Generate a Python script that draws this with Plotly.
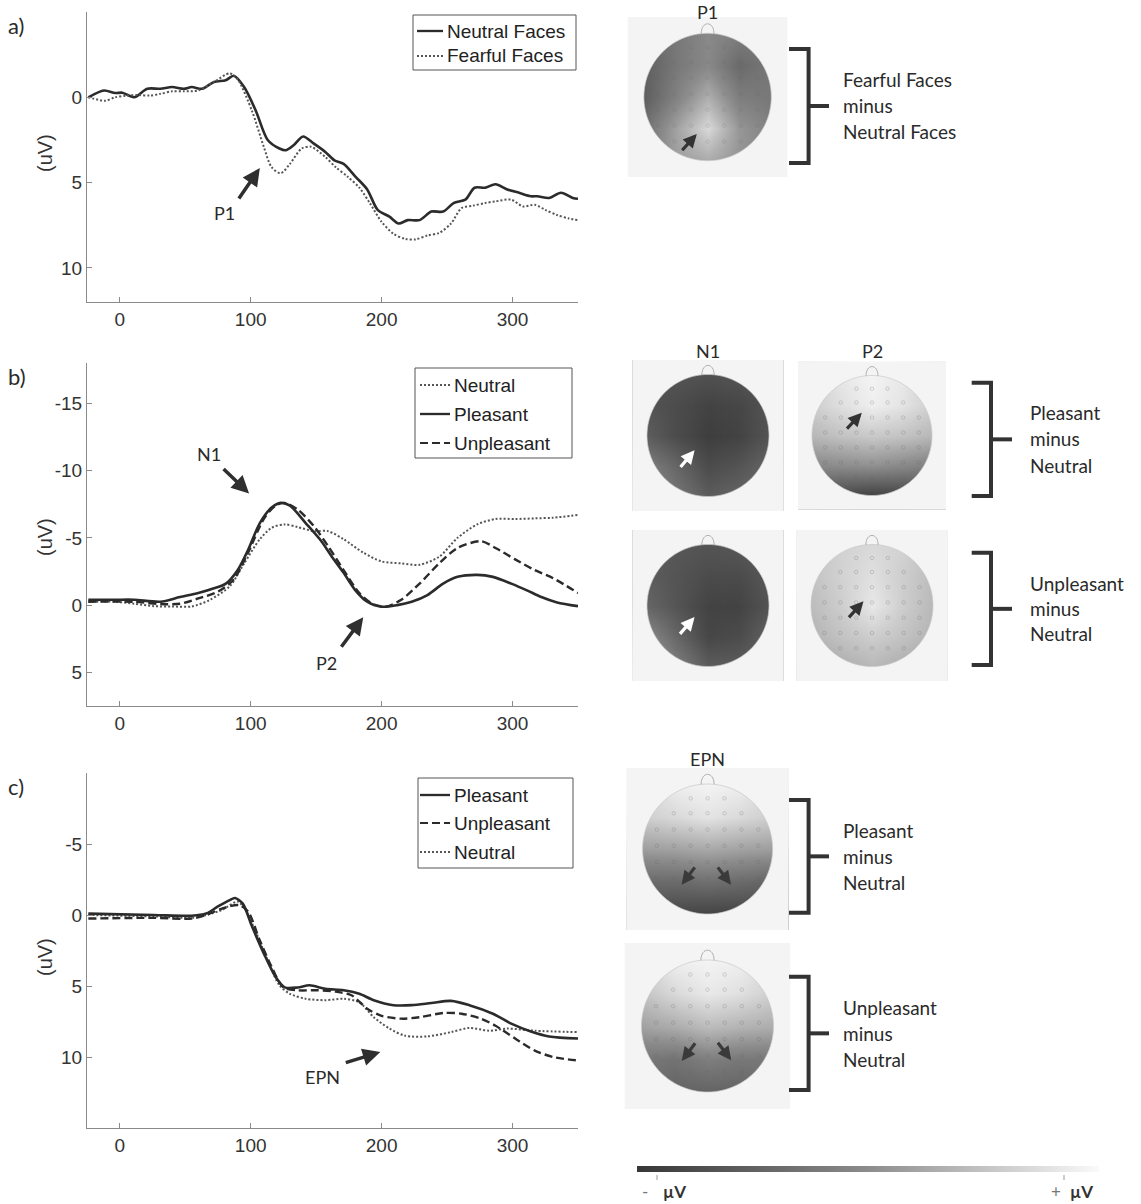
import numpy as np
import plotly.graph_objects as go

W, H = 1141, 1204

# ------------------------------------------------------------------ data
# Panel a: Fearful vs Neutral faces (ms, uV)
A_NEUTRAL_T = [-24, -12, -3.5, 2, 11, 21, 31, 40, 49, 55, 63, 72, 81, 87, 95, 104, 113, 122, 127, 133, 140,
               148, 157, 164, 171, 180, 189, 197, 206, 213, 220, 229, 238, 247, 255, 264, 271, 279, 287,
               296, 305, 314, 319, 328, 337, 346, 350]
A_NEUTRAL_V = [0, -0.4, -0.25, -0.27, 0, -0.5, -0.5, -0.6, -0.5, -0.6, -0.5, -0.9, -1.0, -1.26, -0.6, 0.8, 2.5,
               3.0, 3.1, 2.8, 2.3, 2.7, 3.2, 3.7, 3.9, 4.65, 5.4, 6.6, 7.0, 7.4, 7.2, 7.2, 6.7, 6.7, 6.2,
               6.0, 5.3, 5.3, 5.1, 5.4, 5.6, 5.8, 5.8, 5.9, 5.6, 5.9, 5.95]
A_FEARFUL_T = [-24, -11, -3.5, 5, 14, 23, 31, 40, 49, 60, 72, 84, 90, 101, 110, 116, 123, 130, 139, 146, 157,
               165, 174, 183, 191, 200, 209, 218, 226, 235, 244, 253, 261, 270, 279, 287, 299, 308, 317,
               325, 334, 343, 350]
A_FEARFUL_V = [0, 0.2, 0, -0.1, -0.13, -0.1, -0.2, -0.35, -0.35, -0.4, -0.9, -1.4, -1.06, 0.8, 2.9, 4.1, 4.45,
               3.9, 3.0, 2.9, 3.5, 4.1, 4.65, 5.3, 6.2, 7.3, 8.0, 8.3, 8.33, 8.1, 7.95, 7.4, 6.5, 6.35,
               6.2, 6.1, 6.0, 6.4, 6.3, 6.6, 6.9, 7.1, 7.2]

# Panel b: N1 / P2
B_NEUTRAL_T = [-24, -3.5, 11, 26, 40, 55, 69, 84, 95, 107, 116, 126, 136, 148, 159, 171, 186, 200, 215, 229,
               244, 258, 273, 287, 302, 317, 331, 350]
B_NEUTRAL_V = [-0.25, -0.25, -0.1, 0.08, 0.1, 0.1, -0.4, -1.4, -3.1, -4.9, -5.75, -6.0, -5.8, -5.5, -5.5,
               -4.9, -3.9, -3.25, -3.1, -3.0, -3.6, -5.0, -6.0, -6.4, -6.4, -6.45, -6.5, -6.7]
B_PLEAS_T = [-24, -3.5, 11, 31, 46, 60, 72, 81, 90, 98, 107, 116, 123, 130, 142, 154, 162, 171, 180, 189,
             200, 212, 223, 235, 247, 258, 273, 285, 299, 311, 322, 334, 350]
B_PLEAS_V = [-0.4, -0.4, -0.4, -0.25, -0.6, -0.9, -1.25, -1.6, -2.6, -4.1, -6.1, -7.25, -7.6, -7.4, -6.1,
             -4.75, -3.6, -2.4, -1.1, -0.25, 0.12, 0, -0.25, -0.75, -1.6, -2.1, -2.25, -2.1, -1.6, -1.1,
             -0.6, -0.2, 0.08]
B_UNPL_T = [-24, 11, 31, 46, 60, 75, 87, 98, 110, 119, 126, 136, 148, 159, 171, 183, 193, 203, 215, 229,
            244, 258, 276, 287, 302, 317, 331, 350]
B_UNPL_V = [-0.25, -0.25, -0.08, -0.1, -0.5, -1.0, -1.9, -3.9, -6.4, -7.4, -7.6, -7.1, -5.9, -4.4, -2.6,
            -0.9, -0.1, 0.12, -0.4, -1.6, -3.1, -4.25, -4.75, -4.25, -3.4, -2.6, -2.0, -0.9]

# Panel c: EPN
C_PLEAS_T = [-24, 26, 55, 66, 75, 84, 88, 94, 101, 110, 119, 126, 136, 145, 157, 171, 183, 194, 209, 223,
             238, 253, 267, 285, 299, 314, 328, 350]
C_PLEAS_V = [-0.1, 0, 0.05, -0.1, -0.6, -1.05, -1.2, -0.8, 0.8, 2.7, 4.35, 5.1, 5.1, 4.95, 5.2, 5.3, 5.55,
             6.0, 6.35, 6.35, 6.2, 6.05, 6.35, 6.95, 7.65, 8.2, 8.55, 8.7]
C_UNPL_T = [-24, 26, 55, 66, 78, 91, 98, 107, 116, 125, 136, 151, 165, 177, 189, 200, 215, 229, 247, 261,
            276, 287, 302, 317, 331, 350]
C_UNPL_V = [0.25, 0.2, 0.25, 0, -0.45, -0.7, -0.25, 1.8, 3.65, 5.1, 5.3, 5.3, 5.4, 5.65, 6.6, 7.1, 7.3, 7.2,
            6.9, 6.95, 7.3, 7.8, 8.7, 9.55, 10.0, 10.25]
C_NEUT_T = [-24, 26, 55, 66, 78, 90, 95, 104, 113, 122, 130, 142, 157, 171, 183, 194, 206, 218, 235, 253,
            267, 282, 296, 317, 350]
C_NEUT_V = [0, 0.1, 0.2, 0, -0.35, -0.95, -0.5, 1.2, 3.2, 4.95, 5.55, 5.9, 6.0, 5.9, 6.15, 7.2, 8.0, 8.5,
            8.55, 8.25, 7.95, 8.15, 8.0, 8.15, 8.25]

X_TICKS = [0, 100, 200, 300]
A_YTICKS = [0, 5, 10]
B_YTICKS = [-15, -10, -5, 0, 5]
C_YTICKS = [-5, 0, 5, 10]

# Topographic difference maps: relative amplitude (0 = most negative, 1 = most positive)
# 5 x 5 grid, rows listed from front (top) to back (bottom), columns left to right
TOPO_GRID = [-1.0, -0.5, 0.0, 0.5, 1.0]
TOPO_P1 = [[0.28, 0.38, 0.48, 0.42, 0.38],
           [0.23, 0.38, 0.48, 0.30, 0.38],
           [0.23, 0.44, 0.66, 0.42, 0.38],
           [0.33, 0.60, 0.85, 0.55, 0.44],
           [0.44, 0.58, 0.64, 0.54, 0.48]]
TOPO_N1_PLEAS = [[0.17, 0.17, 0.15, 0.17, 0.17],
                 [0.17, 0.12, 0.07, 0.09, 0.17],
                 [0.22, 0.12, 0.04, 0.07, 0.17],
                 [0.42, 0.27, 0.12, 0.17, 0.27],
                 [0.52, 0.37, 0.22, 0.27, 0.32]]
TOPO_P2_PLEAS = [[0.80, 0.92, 0.97, 0.92, 0.80],
                 [0.80, 0.88, 0.95, 0.90, 0.80],
                 [0.70, 0.75, 0.78, 0.75, 0.70],
                 [0.48, 0.50, 0.52, 0.48, 0.43],
                 [0.15, 0.10, 0.06, 0.08, 0.12]]
TOPO_N1_UNPL = [[0.22, 0.19, 0.17, 0.19, 0.22],
                [0.22, 0.17, 0.12, 0.12, 0.19],
                [0.27, 0.17, 0.07, 0.07, 0.17],
                [0.48, 0.27, 0.09, 0.12, 0.25],
                [0.63, 0.42, 0.22, 0.22, 0.27]]
TOPO_P2_UNPL = [[0.75, 0.82, 0.85, 0.82, 0.75],
                [0.75, 0.82, 0.88, 0.80, 0.72],
                [0.72, 0.80, 0.92, 0.80, 0.70],
                [0.68, 0.75, 0.80, 0.75, 0.68],
                [0.60, 0.65, 0.70, 0.65, 0.60]]
TOPO_EPN_PLEAS = [[0.85, 0.95, 0.97, 0.95, 0.85],
                  [0.80, 0.85, 0.90, 0.85, 0.80],
                  [0.58, 0.60, 0.63, 0.60, 0.58],
                  [0.30, 0.30, 0.33, 0.30, 0.26],
                  [0.14, 0.09, 0.07, 0.07, 0.11]]
TOPO_EPN_UNPL = [[0.85, 0.95, 0.97, 0.95, 0.85],
                 [0.75, 0.85, 0.92, 0.88, 0.80],
                 [0.60, 0.65, 0.72, 0.68, 0.65],
                 [0.38, 0.35, 0.42, 0.38, 0.38],
                 [0.32, 0.26, 0.26, 0.26, 0.32]]

# electrode rows (normalised head coordinates)
ELECTRODE_ROW_Y = [0.78, 0.55, 0.30, 0.05, -0.20, -0.45, -0.70]
ELECTRODE_COL_X = [-0.78, -0.52, -0.26, 0.0, 0.26, 0.52, 0.78]

# ------------------------------------------------------------------ helpers
def px(x):
    return x / W


def py(y):
    return 1 - y / H


TICK_FONT = dict(family="Liberation Sans, Arial", size=19, color="#333333")
TEXT_FONT = dict(family="Lato, Noto Sans", size=19, color="#2a2a2a")
AX_COL = "#8a8a8a"
DARK = "#2b2b2b"

STYLES = {
    "solid": dict(color=DARK, width=2.6),
    "dash": dict(color=DARK, width=2.4, dash="8px,4px"),
    "dot": dict(color="#555555", width=2.0, dash="2px,2px"),
}

fig = go.Figure()

# ------------------------------------------------------------------ ERP panels
LEFT_X = (87, 578)
PANELS = [
    dict(ax="", yr=(12, 302), rng=[12, -5], ticks=A_YTICKS, label="a)", label_y=25, utitle_y=153,
         series=[(A_NEUTRAL_T, A_NEUTRAL_V, "solid", "Neutral Faces"),
                 (A_FEARFUL_T, A_FEARFUL_V, "dot", "Fearful Faces")]),
    dict(ax="2", yr=(363, 706), rng=[7.5, -18], ticks=B_YTICKS, label="b)", label_y=376, utitle_y=537,
         series=[(B_NEUTRAL_T, B_NEUTRAL_V, "dot", "Neutral"),
                 (B_PLEAS_T, B_PLEAS_V, "solid", "Pleasant"),
                 (B_UNPL_T, B_UNPL_V, "dash", "Unpleasant")]),
    dict(ax="3", yr=(773, 1128), rng=[15, -10], ticks=C_YTICKS, label="c)", label_y=786, utitle_y=957,
         series=[(C_NEUT_T, C_NEUT_V, "dot", "Neutral"),
                 (C_UNPL_T, C_UNPL_V, "dash", "Unpleasant"),
                 (C_PLEAS_T, C_PLEAS_V, "solid", "Pleasant")]),
]

layout = dict(width=W, height=H, margin=dict(l=0, r=0, t=0, b=0), paper_bgcolor="white",
              plot_bgcolor="rgba(0,0,0,0)", showlegend=False)
shapes, annotations = [], []

for p in PANELS:
    a = p["ax"]
    for t, v, style, name in p["series"]:
        fig.add_trace(go.Scatter(x=t, y=v, mode="lines", name=name, line=dict(shape="spline", smoothing=0.8,
                                 **STYLES[style]), xaxis="x" + a, yaxis="y" + a, hoverinfo="skip"))
    layout["xaxis" + a] = dict(domain=[px(LEFT_X[0]), px(LEFT_X[1])], range=[-25, 350], tickvals=X_TICKS,
                               ticktext=[str(v) for v in X_TICKS],
                               ticks="inside", ticklen=5, tickcolor=AX_COL, showline=True, linecolor=AX_COL,
                               linewidth=1.2, showgrid=False, zeroline=False, tickfont=TICK_FONT,
                               anchor="y" + a, fixedrange=True)
    layout["yaxis" + a] = dict(domain=[py(p["yr"][1]), py(p["yr"][0])], range=p["rng"], tickvals=p["ticks"],
                               ticktext=[str(v) for v in p["ticks"]],
                               ticks="inside", ticklen=5, tickcolor=AX_COL, showline=True, linecolor=AX_COL,
                               linewidth=1.2, showgrid=False, zeroline=False, tickfont=TICK_FONT,
                               anchor="x" + a, fixedrange=True)
    annotations.append(dict(text=p["label"], x=px(6), y=py(p["label_y"]), xref="paper", yref="paper",
                            xanchor="left", yanchor="middle", showarrow=False,
                            font=dict(family="Lato, Noto Sans", size=22, color="#2a2a2a")))
    annotations.append(dict(text="(uV)", x=px(45), y=py(p["utitle_y"]), xref="paper", yref="paper",
                            textangle=-90, showarrow=False, xanchor="center", yanchor="middle",
                            font=dict(family="Liberation Sans, Arial", size=20, color="#333333")))

# legends (drawn boxes)
LEGENDS = [
    dict(box=(413, 15, 576, 70), line_x=(417, 443), text_x=445,
         entries=[(31, "Neutral Faces", "solid"), (56, "Fearful Faces", "dot")]),
    dict(box=(415, 368, 572, 458), line_x=(420, 450), text_x=452,
         entries=[(385, "Neutral", "dot"), (414, "Pleasant", "solid"), (443, "Unpleasant", "dash")]),
    dict(box=(418, 778, 573, 868), line_x=(420, 450), text_x=452,
         entries=[(795, "Pleasant", "solid"), (823, "Unpleasant", "dash"), (852, "Neutral", "dot")]),
]
for lg in LEGENDS:
    x0, y0, x1, y1 = lg["box"]
    shapes.append(dict(type="rect", xref="paper", yref="paper", x0=px(x0), x1=px(x1), y0=py(y1), y1=py(y0),
                       line=dict(color="#555555", width=1), fillcolor="white", layer="above"))
    for yy, txt, style in lg["entries"]:
        st = STYLES[style]
        shapes.append(dict(type="line", xref="paper", yref="paper", x0=px(lg["line_x"][0]), x1=px(lg["line_x"][1]),
                           y0=py(yy), y1=py(yy), line=dict(color=st["color"], width=st["width"] * 0.9,
                                                           dash=st.get("dash", "solid"))))
        annotations.append(dict(text=txt, x=px(lg["text_x"]), y=py(yy), xref="paper", yref="paper",
                                xanchor="left", yanchor="middle", showarrow=False,
                                font=dict(family="Liberation Sans, Arial", size=19, color="#222222")))

# component arrows on ERP panels: (axis suffix, head ms, head uV, tail dx px, tail dy px, label, label ms, label uV)
ERP_ARROWS = [
    ("", 107, 4.15, -22, 32, "P1", 80, 6.8),
    ("2", 98.8, -8.3, -27, -26, "N1", 68, -11.2),
    ("2", 186, 0.9, -23, 31, "P2", 158, 4.3),
    ("3", 199, 9.65, -36, 11, "EPN", 155, 11.4),
]
for a, hx, hy, dx, dy, lab, lx, ly in ERP_ARROWS:
    annotations.append(dict(text="", x=hx, y=hy, xref="x" + a, yref="y" + a, ax=dx, ay=dy, showarrow=True,
                            arrowhead=2, arrowsize=1.0, arrowwidth=3.5, arrowcolor="#2f2f2f", standoff=0))
    annotations.append(dict(text=lab, x=lx, y=ly, xref="x" + a, yref="y" + a, showarrow=False,
                            xanchor="center", yanchor="middle",
                            font=dict(family="Lato, Noto Sans", size=18, color="#2a2a2a")))

# ------------------------------------------------------------------ topographic maps
MAPS = [
    dict(cx=707.6, cy=97, r=63.7, hs=80, z=TOPO_P1, label="P1", label_y=12, elec=0.22,
         arrows=[((-0.42, -0.86), (-0.17, -0.58), "#333333")]),
    dict(cx=708, cy=435.5, r=61, hs=75.5, z=TOPO_N1_PLEAS, label="N1", label_y=351, elec=0.12,
         arrows=[((-0.47, -0.54), (-0.22, -0.24), "white")]),
    dict(cx=872, cy=435.5, r=60, hs=74, z=TOPO_P2_PLEAS, label="P2", label_y=351, elec=0.3,
         arrows=[((-0.44, 0.09), (-0.17, 0.38), "#333333")]),
    dict(cx=708, cy=605.5, r=61, hs=75.5, z=TOPO_N1_UNPL, label=None, elec=0.12,
         arrows=[((-0.48, -0.49), (-0.22, -0.19), "white")]),
    dict(cx=872, cy=605.5, r=61, hs=75.5, z=TOPO_P2_UNPL, label=None, elec=0.3,
         arrows=[((-0.40, -0.22), (-0.14, 0.07), "#333333")]),
    dict(cx=707.6, cy=849, r=65, hs=81, z=TOPO_EPN_PLEAS, label="EPN", label_y=759, elec=0.3,
         arrows=[((-0.18, -0.26), (-0.40, -0.55), "#3a3a3a"), ((0.14, -0.26), (0.36, -0.55), "#3a3a3a")]),
    dict(cx=707.5, cy=1026, r=66, hs=83, z=TOPO_EPN_UNPL, label=None, elec=0.3,
         arrows=[((-0.17, -0.24), (-0.39, -0.53), "#3a3a3a"), ((0.14, -0.23), (0.36, -0.52), "#3a3a3a")]),
]
GRAYSCALE = [[0, "#373737"], [0.5, "#8c8c8c"], [1, "#fafafa"]]

theta = np.linspace(0, 2 * np.pi, 121)
circle_pts = " ".join(f"L {np.cos(t):.4f},{np.sin(t):.4f}" for t in theta[1:])
circle_path = f"M 1,0 {circle_pts} Z"
ex = [x for yv in ELECTRODE_ROW_Y for x in ELECTRODE_COL_X if x * x + yv * yv < 0.86]
ey = [yv for yv in ELECTRODE_ROW_Y for x in ELECTRODE_COL_X if x * x + yv * yv < 0.86]

for i, m in enumerate(MAPS):
    n = str(i + 4)
    R = m["hs"] / m["r"]
    first = i == 0
    fig.add_trace(go.Heatmap(
        x=TOPO_GRID, y=TOPO_GRID, z=m["z"][::-1], zmin=0, zmax=1, colorscale=GRAYSCALE, zsmooth="best",
        xaxis="x" + n, yaxis="y" + n, hoverinfo="skip", showscale=first,
        colorbar=dict(orientation="h", x=px(868), xanchor="center", y=py(1169), yanchor="middle",
                      len=462, lenmode="pixels", thickness=6, thicknessmode="pixels", outlinewidth=0,
                      showticklabels=False, ticks="", xpad=0, ypad=0) if first else None))
    fig.add_trace(go.Scatter(x=ex, y=ey, mode="markers", xaxis="x" + n, yaxis="y" + n, hoverinfo="skip",
                             marker=dict(symbol="circle-open", size=3.5,
                                         color=f"rgba(100,100,100,{m['elec']})", line=dict(width=0.8))))
    layout["xaxis" + n] = dict(domain=[px(m["cx"] - m["hs"]), px(m["cx"] + m["hs"])], range=[-R, R],
                               visible=False, fixedrange=True, anchor="y" + n)
    layout["yaxis" + n] = dict(domain=[py(m["cy"] + m["hs"]), py(m["cy"] - m["hs"])], range=[-R, R],
                               visible=False, fixedrange=True, anchor="x" + n)
    mask = f"M {-R},{-R} L {-R},{R} L {R},{R} L {R},{-R} Z " + circle_path
    shapes.append(dict(type="path", path=mask, xref="x" + n, yref="y" + n, fillcolor="#f4f4f4",
                       line=dict(width=0), layer="above"))
    shapes.append(dict(type="path", path=circle_path, xref="x" + n, yref="y" + n,
                       line=dict(color="#c8c8c8", width=0.7), layer="above"))
    shapes.append(dict(type="path", path="M -0.1,0.995 C -0.1,1.2 0.1,1.2 0.1,0.995", xref="x" + n,
                       yref="y" + n, line=dict(color="#a8a8a8", width=0.9), layer="above"))
    for (tx, ty), (hx, hy), col in m["arrows"]:
        annotations.append(dict(text="", x=hx, y=hy, ax=tx, ay=ty, xref="x" + n, yref="y" + n,
                                axref="x" + n, ayref="y" + n, showarrow=True, arrowhead=2, arrowsize=0.85,
                                arrowwidth=3.2, arrowcolor=col, standoff=0))
    if m["label"]:
        annotations.append(dict(text=m["label"], x=px(m["cx"]), y=py(m["label_y"]), xref="paper", yref="paper",
                                showarrow=False, xanchor="center", yanchor="middle",
                                font=dict(family="Lato, Noto Sans", size=18, color="#2a2a2a")))

# brackets (x_tick_start, x_vertical, y_top, y_bottom, x_mid_end)
BRACKETS = [(789, 808.6, 49, 163, 829), (971.7, 991, 382.7, 496, 1012), (971.7, 991, 552.7, 665, 1012),
            (789, 808.6, 800, 912.7, 829), (789, 808.6, 976.7, 1090, 829)]
for x0, xv, y0, y1, xm in BRACKETS:
    shapes.append(dict(type="path", xref="paper", yref="paper",
                       path=f"M {px(x0)},{py(y0)} L {px(xv)},{py(y0)} L {px(xv)},{py(y1)} L {px(x0)},{py(y1)}",
                       line=dict(color="#333333", width=4)))
    ym = (y0 + y1) / 2
    shapes.append(dict(type="line", xref="paper", yref="paper", x0=px(xv), x1=px(xm), y0=py(ym), y1=py(ym),
                       line=dict(color="#333333", width=4)))

BRACKET_TEXT = [
    (841, [80, 106, 131], ["Fearful Faces", "minus", "Neutral Faces"]),
    (1027.6, [413, 439, 465], ["Pleasant", "minus", "Neutral"]),
    (1027.6, [583, 608, 634], ["Unpleasant", "minus", "Neutral"]),
    (841, [830, 856, 882], ["Pleasant", "minus", "Neutral"]),
    (841, [1007, 1033, 1059], ["Unpleasant", "minus", "Neutral"]),
]
for x, ys, txts in BRACKET_TEXT:
    for yy, t in zip(ys, txts):
        annotations.append(dict(text=t, x=px(x), y=py(yy), xref="paper", yref="paper", showarrow=False,
                                xanchor="left", yanchor="middle", font=TEXT_FONT))

# colour bar ticks and labels
for xt in (657, 1064):
    shapes.append(dict(type="line", xref="paper", yref="paper", x0=px(xt), x1=px(xt), y0=py(1175), y1=py(1180),
                       line=dict(color="#999999", width=1)))
for x, t, bold in [(645, "-", False), (674, "µV", True), (1056, "+", False), (1081, "µV", True)]:
    annotations.append(dict(text=f"<b>{t}</b>" if bold else t, x=px(x), y=py(1191), xref="paper", yref="paper",
                            showarrow=False, xanchor="center", yanchor="middle",
                            font=dict(family="Lato, Noto Sans", size=17,
                                      color="#333333" if bold else "#777777")))

layout["shapes"] = shapes
layout["annotations"] = annotations
fig.update_layout(**layout)
fig.write_html("out.html", config={"displayModeBar": False},
               post_script="document.body.style.margin='0px';document.body.style.padding='0px';")
